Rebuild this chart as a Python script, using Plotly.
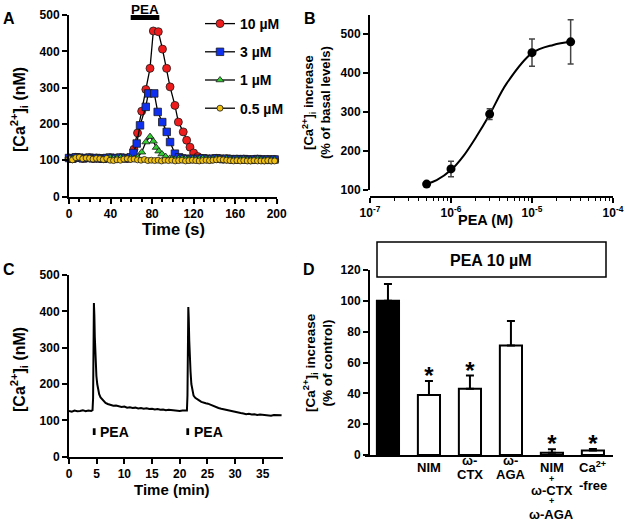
import plotly.graph_objects as go

W, H = 629, 524
FONT = "Arial, Liberation Sans, sans-serif"


def fx(px):
    return px / W


def fy(py):
    return 1 - py / H


# ---- Panel A: [Ca2+]i time course, four PEA concentrations
time_s = [0, 3.3, 6.6, 9.9, 13.2, 16.5, 19.8, 23.1, 26.4, 29.7,
          33, 36.3, 39.6, 42.9, 46.2, 49.5, 52.8, 56.1, 59.4, 62.7,
          66, 69.3, 72.6, 75.9, 79.2, 82.5, 85.8, 89.1, 92.4, 95.7,
          99, 102.3, 105.6, 108.9, 112.2, 115.5, 118.8, 122.1, 125.4, 128.7,
          132, 135.3, 138.6, 141.9, 145.2, 148.5, 151.8, 155.1, 158.4, 161.7,
          165, 168.3, 171.6, 174.9, 178.2, 181.5, 184.8, 188.1, 191.4, 194.7,
          198]
conc_05uM = [104, 101, 107, 108, 104, 106, 105, 103, 105, 104,
             102, 105, 100, 99, 101, 100, 103, 104, 102, 103,
             101, 100, 102, 99, 100, 99, 100, 98, 100, 99,
             100, 98, 99, 100, 98, 99, 100, 99, 98, 99,
             100, 99, 100, 101, 102, 101, 100, 99, 98, 99,
             98, 99, 98, 98, 99, 98, 98, 98, 99, 98,
             98]
baseline_nM = [106, 104, 108, 107, 105, 106, 107, 105, 106, 105,
               104, 106, 107, 105, 106, 107, 106, 105, 106, 105,
               104, 106, 105, 104, 105, 104, 105, 103, 104, 105,
               104, 103, 104, 105, 104, 103, 104, 103, 104, 105,
               104, 103, 104, 105, 104, 103, 104, 103, 102, 103,
               102, 103, 102, 101, 102, 103, 102, 101, 102, 101,
               102]

resp10_t = [62.5, 66, 70, 74, 78, 81.2, 86, 90, 94, 97.3, 102, 105.3,
            110, 113.3, 116.5, 120, 124, 128]
resp10_v = [130, 175, 235, 295, 353, 456, 454, 406, 353, 302, 251, 205,
            178, 155, 136, 120, 110, 105]
resp3_t = [59.5, 62, 65.2, 68.4, 73.9, 76.4, 82.1, 85.4, 89.8, 94.1, 97.3, 102, 106]
resp3_v = [108, 120, 146, 196, 247, 284, 284, 233, 205, 178, 150, 118, 108]
resp1_t = [66, 70, 74, 78, 81.2, 84, 86.5, 89.5, 93, 97]
resp1_v = [108, 122, 150, 165, 152, 135, 125, 117, 110, 105]

t10 = time_s[:19] + resp10_t + time_s[40:]
v10 = baseline_nM[:19] + resp10_v + baseline_nM[40:]
t3 = time_s[:18] + resp3_t + time_s[33:]
v3 = baseline_nM[:18] + resp3_v + baseline_nM[33:]
t1 = time_s[:20] + resp1_t + time_s[30:]
v1 = baseline_nM[:20] + resp1_v + baseline_nM[30:]

# ---- Panel B: concentration-response
pea_m = [5e-7, 1e-6, 3e-6, 1e-5, 3e-5]
increase_pct = [114, 153, 294, 452, 480]
increase_sem = [4, 20, 14, 35, 57]
fit_x = [5e-7, 6.65e-7, 1e-6, 1.42e-6, 2.07e-6, 3e-6, 4.87e-6, 1e-5, 1.83e-5, 3e-5]
fit_y = [114, 124, 150, 186, 237, 293, 373, 451, 472, 480]

# ---- Panel C: two PEA applications
c_time = [0, 0.5, 1, 1.5, 2, 2.5, 3, 3.5, 4, 4.25,
          4.35, 4.42, 4.5, 4.58, 4.66, 4.75, 4.85, 4.95, 5.1, 5.25,
          5.45, 5.7, 6, 6.3, 6.6, 7, 7.5, 8, 8.5, 9,
          9.5, 10, 10.5, 11, 11.5, 12, 12.5, 13, 13.5, 14,
          14.5, 15, 15.5, 16, 16.5, 17, 17.5, 18, 18.5, 19,
          19.5, 20, 20.5, 21, 21.3, 21.4, 21.48, 21.55, 21.63, 21.72,
          21.82, 21.95, 22.1, 22.3, 22.5, 22.8, 23.1, 23.5, 23.9, 24.3,
          24.7, 25.1, 25.5, 26, 26.5, 27, 27.5, 28, 28.5, 29,
          29.5, 30, 30.5, 31, 31.5, 32, 32.5, 33, 33.5, 34,
          34.5, 35, 35.5, 36, 36.5, 37, 37.5, 38, 38.4]
c_ca = [126, 124, 127, 125, 126, 128, 125, 127, 126, 128,
        160, 300, 423, 390, 330, 280, 245, 222, 200, 185,
        172, 163, 157, 152, 148, 145, 143, 140, 141, 138,
        137, 138, 135, 136, 134, 135, 133, 134, 132, 133,
        131, 132, 130, 131, 129, 130, 128, 129, 128, 127,
        128, 126, 127, 126, 127, 170, 310, 412, 380, 320,
        270, 235, 200, 178, 168, 162, 158, 155, 151, 148,
        147, 146, 143, 140, 137, 134, 132, 130, 128, 126,
        124, 122, 121, 120, 119, 117, 118, 116, 117, 115,
        116, 115, 114, 115, 113, 115, 114, 115, 114]

# ---- Panel D: PEA 10 uM with blockers
d_pct = [100, 39, 43, 71, 1.5, 3]
d_sem = [11, 9, 8.5, 16, 2.2, 0.9]
d_signif = [False, True, True, False, True, True]
d_fill = ["black", "white", "white", "white", "white", "white"]
d_labels = [[], ["NIM"], ["ω-", "CTX"], ["ω-", "AGA"],
            ["NIM", "+", "ω-CTX", "+", "ω-AGA"], ["Ca<sup>2+</sup>", "-free"]]
d_label_py = [[], [467], [460, 474], [460, 474],
              [467, 479, 490, 501, 514], [467, 485]]


def bold(size):
    return dict(family=FONT, size=size, color="black", weight="bold")


fig = go.Figure()

marker_edge = dict(color="#1a1a1a", width=0.8)
series_a = [
    ("10 µM", t10, v10, "circle", 8, "#ee1c1c"),
    ("3 µM", t3, v3, "square", 7.5, "#1030f0"),
    ("1 µM", t1, v1, "triangle-up", 7, "#33cc33"),
    ("0.5 µM", time_s, conc_05uM, "circle", 6, "#f2c10f"),
]
for name, t, v, sym, size, color in series_a:
    fig.add_trace(go.Scatter(
        x=t, y=v, name=name, mode="lines+markers", legendgroup=name,
        line=dict(color="black", width=1.3),
        marker=dict(symbol=sym, size=size, color=color, line=marker_edge),
        cliponaxis=False, xaxis="x", yaxis="y"))

fig.add_trace(go.Scatter(
    x=fit_x, y=fit_y, mode="lines", line=dict(color="black", width=2, shape="spline"),
    showlegend=False, xaxis="x2", yaxis="y2"))
fig.add_trace(go.Scatter(
    x=pea_m, y=increase_pct, mode="markers", marker=dict(color="black", size=9),
    error_y=dict(type="data", array=increase_sem, color="#444", thickness=1.5, width=3),
    showlegend=False, xaxis="x2", yaxis="y2"))

fig.add_trace(go.Scatter(
    x=c_time, y=c_ca, mode="lines", line=dict(color="black", width=2),
    showlegend=False, xaxis="x3", yaxis="y3"))

fig.add_trace(go.Bar(
    x=list(range(len(d_pct))), y=d_pct, width=0.54,
    marker=dict(color=d_fill, line=dict(color="black", width=2)),
    error_y=dict(type="data", symmetric=False, array=d_sem, arrayminus=[0] * len(d_pct),
                 color="black", thickness=2, width=4),
    showlegend=False, xaxis="x4", yaxis="y4"))
star_x = [i for i, s in enumerate(d_signif) if s]
star_y = [d_pct[i] + d_sem[i] + 2 for i in star_x]
fig.add_trace(go.Scatter(
    x=star_x, y=star_y, mode="text", text=["*"] * len(star_x),
    textfont=bold(24), cliponaxis=False, showlegend=False, xaxis="x4", yaxis="y4"))


def axis(**kw):
    base = dict(showline=True, linecolor="black", linewidth=2, ticks="outside",
                ticklen=5, tickwidth=1.5, tickcolor="black", showgrid=False,
                zeroline=False, automargin=False, tickfont=bold(12))
    base.update(kw)
    return base


minor_b = [k * 10.0 ** e for e in (-7, -6, -5) for k in range(2, 10)]

annotations = []


def note(text, px, py, size, angle=0):
    annotations.append(dict(text=text, x=fx(px), y=fy(py), xref="paper", yref="paper",
                            xanchor="center", yanchor="middle", showarrow=False,
                            font=bold(size), textangle=angle))


note("A", 9, 19, 16)
note("B", 310, 18, 16)
note("C", 9, 269, 16)
note("D", 309, 269, 16)
note("Time (s)", 173, 229, 16.5)
note("[Ca<sup>2+</sup>]<sub>i</sub> (nM)", 19, 110, 16, -90)
note("PEA (M)", 485, 220, 14.5)
note("[Ca<sup>2+</sup>]<sub>i</sub> increase<br>(% of basal levels)", 317, 102, 13, -90)
note("Time (min)", 172, 489, 15)
note("[Ca<sup>2+</sup>]<sub>i</sub> (nM)", 19, 370, 16, -90)
note("[Ca<sup>2+</sup>]<sub>i</sub> increase<br>(% of control)", 317, 362, 13.5, -90)
note("PEA", 145, 9, 13.5)
note("PEA 10 µM", 491, 260, 16)

for xv in (5.3, 22.2):
    annotations.append(dict(text="PEA", x=xv, y=69, xref="x3", yref="y3",
                            xanchor="left", yanchor="middle",
                            showarrow=False, font=bold(14)))

for i, lines in enumerate(d_labels):
    for txt, py in zip(lines, d_label_py[i]):
        size = 9 if txt == "+" else 13
        annotations.append(dict(text=txt, x=i, y=fy(py), xref="x4", yref="paper",
                                xanchor="center", yanchor="middle",
                                showarrow=False, font=bold(size)))

shapes = [
    dict(type="rect", xref="x", yref="y", x0=59.4, x1=87, y0=486, y1=500,
         fillcolor="black", line=dict(width=0)),
    dict(type="rect", xref="x3", yref="y3", x0=4.3, x1=4.8, y0=60, y1=78,
         fillcolor="black", line=dict(width=0)),
    dict(type="rect", xref="x3", yref="y3", x0=21.2, x1=21.7, y0=60, y1=78,
         fillcolor="black", line=dict(width=0)),
    dict(type="rect", xref="paper", yref="paper", x0=fx(377), x1=fx(606),
         y0=fy(277), y1=fy(242), fillcolor="white", line=dict(color="black", width=1.5)),
]

fig.update_layout(
    width=W, height=H,
    margin=dict(l=0, r=0, t=0, b=0, pad=0, autoexpand=False),
    paper_bgcolor="white", plot_bgcolor="white",
    font=dict(family=FONT, color="black"),
    xaxis=axis(domain=[fx(69), fx(276.7)], range=[0, 200], tick0=0, dtick=40, anchor="y",
               minor=dict(dtick=10, ticks="outside", ticklen=3, tickwidth=1.5, tickcolor="black")),
    yaxis=axis(domain=[fy(196.5), fy(15)], range=[0, 500], dtick=100, anchor="x"),
    xaxis2=axis(type="log", domain=[fx(370), fx(613)], range=[-7, -4],
                tickvals=[1e-7, 1e-6, 1e-5, 1e-4],
                ticktext=["10<sup>-7</sup>", "10<sup>-6</sup>", "10<sup>-5</sup>", "10<sup>-4</sup>"],
                minor=dict(tickvals=minor_b, ticks="outside", ticklen=3, tickwidth=1,
                           tickcolor="black"),
                anchor="free", position=fy(196.7)),
    yaxis2=axis(domain=[fy(189.5), fy(14.6)], range=[100, 550],
                tickvals=[100, 200, 300, 400, 500], anchor="free", position=fx(369)),
    xaxis3=axis(domain=[fx(69), fx(282.7)], range=[0, 38.6],
                tickvals=[0, 5, 10, 15, 20, 25, 30, 35], anchor="y3"),
    yaxis3=axis(domain=[fy(456.7), fy(275)], range=[0, 500], dtick=100, anchor="x3"),
    xaxis4=axis(domain=[fx(365), fx(613)], range=[-0.56, 5.49], ticks="",
                showticklabels=False, anchor="y4"),
    yaxis4=axis(domain=[fy(455), fy(270)], range=[0, 120], dtick=20,
                anchor="free", position=fx(369)),
    showlegend=True,
    legend=dict(x=fx(200), y=fy(8), xanchor="left", yanchor="top", font=bold(14),
                tracegroupgap=7, bgcolor="rgba(0,0,0,0)"),
    annotations=annotations,
    shapes=shapes,
)

fig.write_html("out.html", config={"displayModeBar": False},
               post_script="document.body.style.margin = '0';")
